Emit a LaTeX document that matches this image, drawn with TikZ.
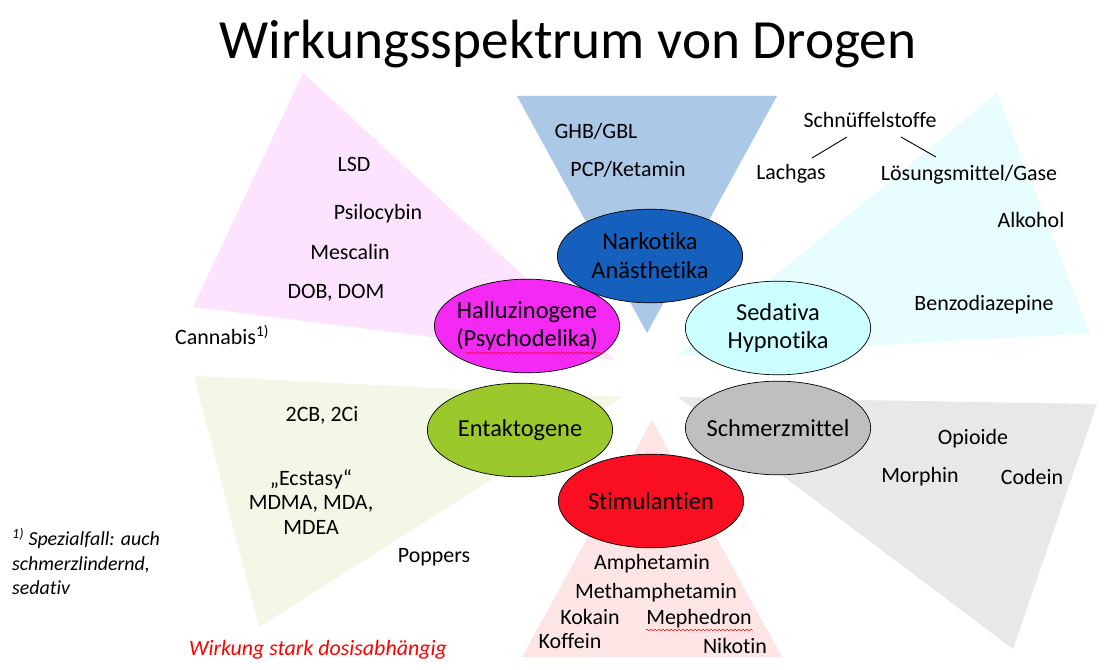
\documentclass[tikz,border=0pt]{standalone}
\usepackage{fontspec}
\setmainfont[Ligatures={TeX,NoCommon}]{Carlito}
\usetikzlibrary{shapes.geometric,decorations.pathmorphing}
\definecolor{triPink}{HTML}{FDE3FD}
\definecolor{triBlue}{HTML}{ABC8E6}
\definecolor{triCyan}{HTML}{E8FEFE}
\definecolor{triGrey}{HTML}{E8E8E8}
\definecolor{triRose}{HTML}{FDE5E6}
\definecolor{triGreen}{HTML}{F2F7E6}
\definecolor{elBlue}{HTML}{1560BD}
\definecolor{elMag}{HTML}{F42AF4}
\definecolor{elCyan}{HTML}{CCFFFF}
\definecolor{elGreen}{HTML}{9BC92B}
\definecolor{elGrey}{HTML}{BFBFBF}
\definecolor{elRed}{HTML}{FA0F22}
\definecolor{noteRed}{HTML}{FF0000}
\begin{document}
\begin{tikzpicture}[x=1bp,y=-1bp,
  ell/.style={ellipse, draw=black, line width=0.7pt, minimum width=186pt, minimum height=94pt,
    inner sep=0pt},
  elltext/.style={inner sep=0pt, align=center, font=\fontsize{24.5}{29}\selectfont},
  lbl/.style={inner sep=0pt, align=center, font=\fontsize{22}{25}\selectfont},
  wavy/.style={draw=red, line width=0.5pt, decorate, decoration={snake, segment length=4pt, amplitude=0.8pt}},
  tree/.style={draw=black, line width=0.9pt}]
\useasboundingbox (0,0) rectangle (1108,670);
% triangles
\fill[triPink] (303,73) -- (193,307) -- (615,360) -- cycle;
\fill[triBlue] (517,96) -- (777,96) -- (647,333) -- cycle;
\fill[triCyan] (997,93) -- (1090,333) -- (676,357) -- cycle;
\fill[triGrey] (678,397) -- (1097,404) -- (1013,649) -- cycle;
\fill[triRose] (652,420) -- (782,657) -- (522,657) -- cycle;
\fill[triGreen] (194,376) -- (622,397) -- (259,627) -- cycle;
% title
\node[inner sep=0pt, font=\fontsize{55.5}{60}\selectfont] (title) at (568,44) {Wirkungsspektrum von Drogen};
% ellipses
\node[ell, fill=elBlue] (nark) at (650,256) {};
\node[elltext] (narkT) at (nark) {Narkotika\\Anästhetika};
\node[ell, fill=elMag] (hall) at (527,326) {};
\node[elltext] (hallT) at (hall) {Halluzinogene\\(Psychodelika)};
\node[ell, fill=elCyan] (seda) at (778,328) {};
\node[elltext] (sedaT) at (seda) {Sedativa\\Hypnotika};
\node[ell, fill=elGreen] (enta) at (520,430) {};
\node[elltext] (entaT) at (enta) {Entaktogene};
\node[ell, fill=elGrey] (schm) at (778,428) {};
\node[elltext] (schmT) at (schm) {Schmerzmittel};
\node[ell, fill=elRed] (stim) at (651,501) {};
\node[elltext] (stimT) at (stim) {Stimulantien};
\coordinate (psyA) at (466,353);
\coordinate (psyB) at (604,353);
\draw[wavy] (psyA) -- (psyB);
% hallucinogens
\node[lbl] (lsd) at (354,164) {LSD};
\node[lbl] (psil) at (378,214) {Psilocybin};
\node[lbl] (mesc) at (350,252) {Mescalin};
\node[lbl] (dob) at (336,293) {DOB, DOM};
\node[lbl, anchor=west] (cann) at (175,335) {Cannabis\textsuperscript{1)}};
% narcotics
\node[lbl] (ghb) at (596,131) {GHB/GBL};
\node[lbl] (pcp) at (628,169) {PCP/Ketamin};
% inhalants
\node[lbl] (schn) at (870,120) {Schnüffelstoffe};
\node[lbl] (lach) at (791,174) {Lachgas};
\node[lbl] (loes) at (969,175) {Lösungsmittel/Gase};
\coordinate (t1a) at (847,137);
\coordinate (t1b) at (812,158);
\coordinate (t2a) at (901,137);
\coordinate (t2b) at (936,157);
\draw[tree] (t1a) -- (t1b);
\draw[tree] (t2a) -- (t2b);
\node[lbl] (alk) at (1031,220) {Alkohol};
\node[lbl] (benz) at (984,305) {Benzodiazepine};
% entactogens
\node[lbl] (cb) at (322,415) {2CB, 2Ci};
\node[lbl] (ecst) at (311,502) {„Ecstasy“\\MDMA, MDA,\\MDEA};
\node[lbl] (popp) at (434,557) {Poppers};
% analgesics
\node[lbl] (opio) at (973,439) {Opioide};
\node[lbl] (morp) at (920,477) {Morphin};
\node[lbl] (code) at (1032,477) {Codein};
% stimulants
\node[lbl] (amph) at (652,564) {Amphetamin};
\node[lbl] (meth) at (656,593) {Methamphetamin};
\node[lbl] (koka) at (590,617) {Kokain};
\node[lbl] (meph) at (699,619) {Mephedron};
\node[lbl] (koff) at (570,641) {Koffein};
\node[lbl] (niko) at (735,646) {Nikotin};
\coordinate (mephA) at (646,630);
\coordinate (mephB) at (753,630);
\draw[wavy] (mephA) -- (mephB);
% notes
\node[inner sep=0pt, text=noteRed, font=\fontsize{22}{24}\itshape\selectfont] (dosis) at (318,650) {Wirkung stark dosisabhängig};
\node[inner sep=0pt, anchor=north west, align=left, font=\fontsize{20}{24.5}\itshape\selectfont] (foot) at (12,528)
  {\textsuperscript{1)} Spezialfall: auch\\schmerzlindernd,\\sedativ};
\end{tikzpicture}
\end{document}
